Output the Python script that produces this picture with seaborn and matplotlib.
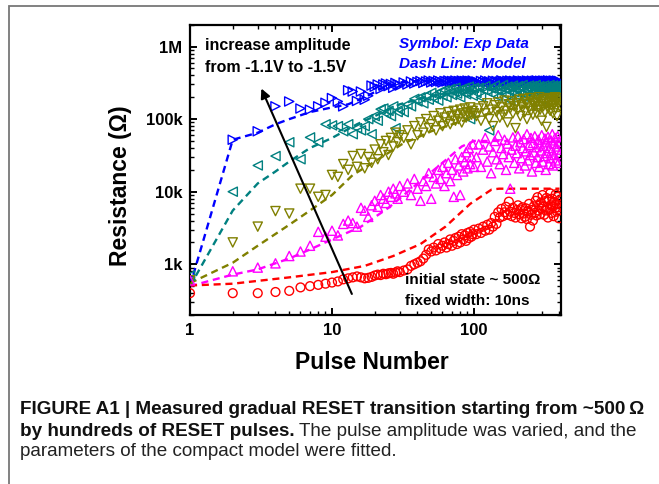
import numpy as np
import pandas as pd
import matplotlib
matplotlib.use("Agg")
import matplotlib.pyplot as plt
import seaborn as sns
from matplotlib.patches import Rectangle
from matplotlib.ticker import FixedLocator, FixedFormatter, LogLocator, NullFormatter

# ---------------- data ----------------
# pulse numbers
x_early = list(range(1, 31))            # 1..30
x_mid = list(range(32, 101, 2))         # 32..100
x_late = list(range(104, 401, 4))       # 104..400

# experimental resistance in kOhm
blue_early = [0.65, 52, 68, 150, 175,
              140, 135, 150, 168, 195,
              175, 150, 250, 240, 178,
              240, 185, 210, 290, 280,
              300, 260, 300, 310, 285,
              305, 270, 315, 300, 290]
blue_mid = [320, 300, 330, 310, 325,
            335, 315, 330, 340, 320,
            335, 325, 340, 330, 320,
            335, 330, 340, 325, 335,
            330, 340, 320, 335, 330,
            340, 325, 335, 330, 340,
            325, 335, 330, 340, 325]
blue_late = [330, 318, 335, 325, 340, 322, 332, 318, 338, 327,
             335, 320, 330, 342, 325, 333, 319, 337, 328, 340,
             322, 331, 336, 318, 329, 341, 324, 334, 320, 338,
             327, 333, 319, 340, 326, 335, 322, 331, 339, 317,
             328, 336, 324, 342, 321, 333, 329, 338, 318, 335,
             326, 340, 323, 331, 337, 320, 329, 342, 325, 334,
             319, 338, 327, 333, 321, 340, 328, 336, 322, 331,
             339, 318, 330, 335, 326]

teal_early = [0.7, 10, 23, 31, 48,
              28, 56, 48, 85, 82,
              80, 68, 85, 62, 75,
              70, 80, 100, 62, 110,
              95, 137, 140, 120, 130,
              110, 150, 75, 125, 135]
teal_mid = [125, 160, 150, 190, 175,
            200, 165, 210, 185, 230,
            195, 220, 180, 240, 210,
            250, 200, 230, 260, 215,
            240, 270, 225, 250, 200,
            260, 235, 270, 220, 250,
            280, 100, 260, 210, 270]
teal_late = [230, 270, 200, 255, 285, 240, 70, 265, 220, 290,
             250, 205, 275, 240, 295, 260, 215, 280, 245, 180,
             270, 290, 235, 260, 210, 285, 250, 275, 230, 295,
             265, 200, 280, 245, 270, 290, 225, 260, 285, 240,
             275, 215, 295, 255, 270, 235, 285, 250, 190, 280,
             265, 240, 290, 255, 275, 220, 285, 260, 245, 295,
             270, 230, 280, 255, 290, 240, 275, 265, 210, 285,
             250, 295, 260, 275, 245]

olive_early = [0.6, 2.0, 3.3, 5.4, 5.0,
               11, 11, 8.5, 9.0, 17,
               16, 24, 20, 31, 22,
               33, 21, 30, 25, 38,
               28, 45, 35, 50, 32,
               55, 42, 65, 48, 60]
olive_mid = [55, 70, 45, 80, 60,
             90, 65, 100, 75, 85,
             110, 70, 95, 120, 80,
             105, 90, 125, 85, 110,
             130, 95, 115, 100, 135,
             90, 120, 140, 105, 125,
             110, 145, 115, 130, 120]
olive_late = [110, 140, 95, 150, 120, 165, 100, 135, 80, 155,
              125, 170, 105, 145, 115, 180, 130, 90, 160, 140,
              175, 120, 150, 75, 165, 135, 185, 110, 155, 145,
              190, 125, 170, 100, 160, 140, 195, 130, 175, 115,
              165, 150, 185, 120, 170, 145, 200, 135, 160, 95,
              180, 150, 190, 125, 170, 78, 185, 140, 165, 195,
              130, 175, 155, 190, 120, 180, 160, 200, 140, 175,
              110, 185, 165, 195, 150]

magenta_early = [0.6, 0.8, 0.9, 1.03, 1.3,
                 1.5, 1.8, 2.8, 2.4, 2.9,
                 2.5, 3.6, 4.0, 3.7, 3.3,
                 6.0, 5.5, 4.5, 6.5, 7.5,
                 6.2, 9.0, 8.0, 7.0, 10,
                 8.5, 11, 9.5, 8.0, 12]
magenta_mid = [10, 13, 9, 15, 11,
               7.5, 14, 12, 18, 8,
               16, 13, 20, 15, 22,
               12, 18, 25, 14, 20,
               8.5, 28, 17, 23, 9,
               30, 19, 26, 35, 21,
               40, 24, 30, 45, 22]
magenta_late = [30, 45, 22, 38, 55, 26, 42, 18, 35, 50,
                28, 60, 24, 40, 33, 52, 20, 46, 30, 11,
                38, 56, 25, 43, 34, 58, 21, 48, 29, 40,
                53, 23, 36, 62, 27, 44, 32, 55, 19, 47,
                35, 58, 25, 41, 30, 52, 22, 45, 37, 60,
                26, 43, 31, 54, 20, 48, 34, 57, 24, 40,
                29, 51, 36, 62, 23, 46, 32, 55, 27, 42,
                38, 58, 25, 49, 33]

red_early = [0.40, 0.40, 0.40, 0.415, 0.43,
             0.48, 0.50, 0.52, 0.54, 0.56,
             0.58, 0.62, 0.64, 0.66, 0.68,
             0.66, 0.64, 0.65, 0.67, 0.70,
             0.72, 0.71, 0.74, 0.73, 0.75,
             0.76, 0.74, 0.77, 0.80, 0.78]
red_mid = [0.82, 0.85, 0.95, 1.0, 1.05,
           1.1, 1.2, 1.35, 1.6, 1.5,
           1.7, 1.55, 1.9, 1.65, 1.8,
           2.0, 1.7, 1.9, 2.2, 1.8,
           2.1, 2.3, 1.9, 2.4, 2.0,
           2.6, 2.2, 2.5, 2.1, 2.7,
           2.3, 2.8, 2.4, 2.6, 3.0]
red_late = [2.6, 3.1, 2.7, 3.3, 2.9, 3.5, 3.0, 3.7, 3.3, 4.5,
            3.6, 5.2, 4.4, 5.8, 4.6, 5.2, 6.2, 4.8, 7.3, 5.3,
            4.6, 6.0, 5.1, 4.4, 5.6, 6.5, 4.9, 5.7, 4.3, 6.1,
            5.0, 4.5, 5.9, 4.2, 5.4, 6.8, 3.3, 4.8, 5.6, 4.0,
            6.3, 5.1, 7.5, 4.7, 8.4, 5.5, 6.6, 4.9, 7.1, 5.8,
            9.0, 6.2, 4.8, 7.4, 5.5, 8.2, 6.0, 4.4, 7.8, 5.7,
            9.5, 6.5, 5.1, 8.0, 6.3, 4.6, 7.2, 5.9, 9.2, 6.7,
            5.3, 8.5, 6.1, 4.3, 7.6]

# compact model (dashed lines), kOhm
blue_model_x = [1, 2, 3, 4, 5, 7, 10, 13, 17, 22, 30, 40, 400]
blue_model_y = [0.5, 52, 65, 85, 100, 125, 145, 160, 200, 260, 320, 335, 335]
teal_model_x = [1, 2, 3, 4, 5, 7, 10, 15, 20, 30, 50, 100, 200, 400]
teal_model_y = [0.5, 5.5, 13, 19, 26, 40, 55, 85, 110, 160, 210, 250, 270, 280]
olive_model_x = [1, 2, 3, 5, 7, 10, 14, 20, 31, 50, 82, 150, 250, 400]
olive_model_y = [0.55, 1.05, 1.8, 3.5, 5.5, 9, 17, 26, 45, 68, 94, 130, 150, 160]
magenta_model_x = [1, 2, 3, 5, 7, 10, 16, 25, 42, 60, 82, 100, 170]
magenta_model_y = [0.5, 0.72, 0.85, 1.2, 1.6, 2.2, 3.3, 6, 14, 25, 42, 50, 50]
red_model_x = [1, 2, 5, 10, 17, 27, 42, 63, 94, 133, 150, 400]
red_model_y = [0.51, 0.54, 0.66, 0.78, 0.95, 1.3, 1.9, 3.3, 6.8, 10.7, 11, 11]

y_ticks = [1e3, 1e4, 1e5, 1e6]
y_tick_labels = ["1k", "10k", "100k", "1M"]
x_ticks = [1, 10, 100]
x_tick_labels = ["1", "10", "100"]

# ---------------- figure ----------------
sns.set_theme(style="ticks")
plt.rcParams["font.family"] = ["Liberation Sans", "DejaVu Sans"]

W, H = 659, 484
fig = plt.figure(figsize=(W / 100, H / 100), dpi=100)
fig.patch.set_facecolor("white")
ax = fig.add_axes([190 / W, 1 - 315 / H, (561 - 190) / W, (315 - 24.7) / H])
ax.set_facecolor("white")

x_all = x_early + x_mid + x_late
series = [
    ("blue", "#0000FF", ">", 44, blue_early + blue_mid + blue_late, blue_model_x, blue_model_y),
    ("teal", "#008080", "<", 44, teal_early + teal_mid + teal_late, teal_model_x, teal_model_y),
    ("olive", "#808000", "v", 44, olive_early + olive_mid + olive_late, olive_model_x, olive_model_y),
    ("magenta", "#FF00FF", "^", 44, magenta_early + magenta_mid + magenta_late, magenta_model_x, magenta_model_y),
    ("red", "#FF0000", "o", 40, red_early + red_mid + red_late, red_model_x, red_model_y),
]

for name, col, mk, sz, ys, mx, my in series:
    sns.lineplot(x=mx, y=np.array(my) * 1e3, ax=ax, color=col, lw=1.7,
                 linestyle=(0, (3, 2)), sort=False, estimator=None, zorder=2)

for name, col, mk, sz, ys, mx, my in series:
    df = pd.DataFrame({"pulse": x_all, "R": np.array(ys) * 1e3})
    sns.scatterplot(data=df, x="pulse", y="R", ax=ax, marker=mk, s=sz,
                    facecolor="none", edgecolor=col, linewidth=1.0, zorder=3)

ax.set_xscale("log")
ax.set_yscale("log")
ax.set_xlim(1, 410)
ax.set_ylim(200, 2e6)

ax.xaxis.set_major_locator(FixedLocator(x_ticks))
ax.xaxis.set_major_formatter(FixedFormatter(x_tick_labels))
ax.yaxis.set_major_locator(FixedLocator(y_ticks))
ax.yaxis.set_major_formatter(FixedFormatter(y_tick_labels))
ax.xaxis.set_minor_locator(LogLocator(base=10, subs=np.arange(2, 10), numticks=20))
ax.yaxis.set_minor_locator(LogLocator(base=10, subs=np.arange(2, 10), numticks=20))
ax.xaxis.set_minor_formatter(NullFormatter())
ax.yaxis.set_minor_formatter(NullFormatter())

ax.tick_params(which="both", direction="in", top=True, right=True, colors="black")
ax.tick_params(which="major", length=5, width=1.4, pad=5.5, labelsize=12)
ax.tick_params(which="minor", length=2.6, width=1.0)
for lab in ax.get_xticklabels() + ax.get_yticklabels():
    lab.set_fontweight("bold")
for sp in ax.spines.values():
    sp.set_linewidth(1.6)
    sp.set_color("black")
    sp.set_visible(True)

ax.set_xlabel("Pulse Number", fontsize=16.5, fontweight="bold", color="black")
ax.set_ylabel("Resistance (\u03a9)", fontsize=16.5, fontweight="bold", color="black")
ax.xaxis.set_label_coords(0.489, -0.125)
ax.yaxis.set_label_coords(-0.155, 0.444)

# annotations
ax.text(0.040, 0.927, "increase amplitude", transform=ax.transAxes, fontsize=11.5,
        fontweight="bold", va="center", ha="left", color="black")
ax.text(0.040, 0.854, "from -1.1V to -1.5V", transform=ax.transAxes, fontsize=11.5,
        fontweight="bold", va="center", ha="left", color="black")
ax.text(0.563, 0.934, "Symbol: Exp Data", transform=ax.transAxes, fontsize=11,
        fontweight="bold", style="italic", va="center", ha="left", color="#0000FF")
ax.text(0.563, 0.865, "Dash Line: Model", transform=ax.transAxes, fontsize=11,
        fontweight="bold", style="italic", va="center", ha="left", color="#0000FF")
ax.text(0.58, 0.121, "initial state ~ 500\u03a9", transform=ax.transAxes, fontsize=11,
        fontweight="bold", va="center", ha="left", color="black")
ax.text(0.58, 0.048, "fixed width: 10ns", transform=ax.transAxes, fontsize=11,
        fontweight="bold", va="center", ha="left", color="black")

ax.annotate("", xy=(3.18, 2.64e5), xytext=(13.8, 390),
            arrowprops=dict(arrowstyle="-|>", color="black", lw=1.5,
                            mutation_scale=14, shrinkA=0, shrinkB=0), zorder=5)

# outer frame (top and left edges visible)
fig.add_artist(Rectangle((9 / W, -0.2), 2.0, 1 - 6 / H + 0.2, transform=fig.transFigure,
                         fill=False, edgecolor="#777777", lw=1.3))

# caption
cap_x = 20 / W
cap_fs = 13.6
fig.text(cap_x, 1 - 409 / H, "FIGURE A1 | Measured gradual RESET transition starting from ~500\u2009\u03a9",
         fontsize=cap_fs, fontweight="bold", va="center", ha="left", color="#111111")
t_bold = fig.text(cap_x, 1 - 431 / H, "by hundreds of RESET pulses.", fontsize=cap_fs,
                  fontweight="bold", va="center", ha="left", color="#111111")
fig.canvas.draw()
bb = t_bold.get_window_extent(renderer=fig.canvas.get_renderer())
fig.text(bb.x1 / W + 4 / W, 1 - 431 / H, "The pulse amplitude was varied, and the",
         fontsize=cap_fs, va="center", ha="left", color="#222222")
fig.text(cap_x, 1 - 452 / H, "parameters of the compact model were fitted.",
         fontsize=cap_fs, va="center", ha="left", color="#222222")

fig.savefig("out.png", dpi=100, facecolor="white")
